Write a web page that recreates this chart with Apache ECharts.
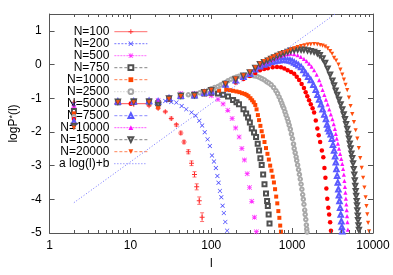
<!DOCTYPE html>
<html><head><meta charset="utf-8">
<script src="https://cdn.jsdelivr.net/npm/echarts@6/dist/echarts.min.js"></script>
<style>html,body{margin:0;padding:0;background:#fff}#c{width:393px;height:275px}</style>
</head><body><div id="c"></div>
<script>
// ---- axes ----
const xMin = 1, xMax = 10000;
const yMin = -5, yMax = 1.5, yInterval = 1;
const xMinorTicks = [2,3,4,5,6,7,8,9,20,30,40,50,60,70,80,90,200,300,400,500,600,700,800,900,2000,3000,4000,5000,6000,7000,8000,9000];
const seriesNames = ['N=100','N=200','N=500','N=750','N=1000','N=2500','N=5000','N=7500','N=10000','N=15000','N=20000','a log(l)+b'];

// ---- data: [l, logP*(l)] ----
const n100 = [[2,-1.12],[7,-1.12],[11,-1.18],[17,-1.22],[22,-1.3],[27,-1.4],[32,-1.6],[37,-1.79],[42,-2.03],[46,-2.3],[52,-2.59],[57,-2.93],[62,-3.26],[66,-3.63],[71,-4.04],[77,-4.53]];
const n100Err = [0,0,0,0.02,0.03,0.03,0.04,0.04,0.05,0.05,0.06,0.07,0.08,0.09,0.11,0.13];
const n200 = [[2,-1.18],[7,-1.14],[11,-1.1],[17,-1.08],[22,-1.08],[27,-1.08],[32,-1.11],[37,-1.13],[43,-1.23],[49,-1.33],[57,-1.42],[64,-1.52],[71,-1.67],[77,-1.81],[83,-2.01],[90,-2.22],[96,-2.42],[102,-2.7],[108,-2.88],[114,-3.07],[119,-3.31],[123,-3.51],[128,-3.75],[133,-3.94],[138,-4.19],[143,-4.41],[149,-4.67],[157,-4.93]];
const n500 = [[2,-1.28],[7,-1.12],[11,-1.1],[17,-1.08],[22,-1.07],[30,-0.98],[42,-0.86],[62,-0.86],[82,-0.88],[100,-0.93],[121,-1.04],[140,-1.17],[160,-1.36],[181,-1.6],[200,-1.88],[221,-2.15],[239,-2.49],[257,-2.83],[278,-3.24],[297,-3.65],[317,-4.06],[342,-4.53],[361,-4.96]];
const n750 = [[2,-1.38],[7,-1.12],[11,-1.1],[17,-1.1],[22,-1.15],[30,-1.02],[42,-0.94],[62,-0.92],[82,-0.86],[100,-0.84],[121,-0.86],[140,-0.9],[161,-0.95],[186,-1.05],[205,-1.12],[220,-1.18],[250,-1.33],[270,-1.45],[285,-1.57],[300,-1.72],[317,-1.9],[338,-2.02],[358,-2.15],[375,-2.35],[390,-2.55],[405,-2.78],[420,-2.98],[438,-3.26],[455,-3.55],[475,-3.83],[490,-4.05],[500,-4.2],[512,-4.45],[525,-4.72]];
const n1000 = [[2,-1.45],[7,-1.12],[11,-1.1],[17,-1.12],[22,-1.25],[30,-1.05],[42,-0.94],[62,-0.93],[82,-0.86],[100,-0.82],[125,-0.77],[153,-0.75],[170,-0.76],[186,-0.78],[205,-0.8],[223,-0.82],[240,-0.85],[258,-0.87],[273,-0.9],[288,-0.94],[305,-1.0],[320,-1.06],[335,-1.12],[350,-1.2],[363,-1.33],[377,-1.5],[390,-1.65],[405,-1.82],[420,-1.98],[435,-2.13],[455,-2.3],[475,-2.48],[495,-2.65],[515,-2.82],[535,-3.0],[555,-3.15],[575,-3.33],[595,-3.5],[615,-3.7],[635,-3.92],[655,-4.12],[675,-4.35],[695,-4.55],[712,-4.78],[727,-4.96]];
const n2500 = [[2,-1.55],[7,-1.1],[11,-1.1],[17,-1.1],[22,-1.12],[30,-1.0],[42,-0.92],[52,-0.9],[62,-0.88],[72,-0.84],[82,-0.8],[92,-0.76],[100,-0.72],[110,-0.68],[121,-0.65],[130,-0.61],[139,-0.58],[150,-0.53],[161,-0.48],[175,-0.44],[190,-0.4],[205,-0.37],[220,-0.35],[235,-0.34],[250,-0.33],[265,-0.32],[280,-0.32],[297,-0.32],[312,-0.32],[330,-0.33],[350,-0.34],[376,-0.36],[400,-0.39],[425,-0.42],[455,-0.46],[485,-0.51],[515,-0.55],[550,-0.6],[590,-0.68],[630,-0.78],[660,-0.86],[690,-0.96],[720,-1.06],[745,-1.15],[765,-1.23],[790,-1.3],[815,-1.4],[840,-1.5],[870,-1.6],[895,-1.7],[920,-1.8],[950,-1.92],[980,-2.06],[1010,-2.2],[1040,-2.36],[1060,-2.49],[1090,-2.62],[1120,-2.74],[1140,-2.85],[1170,-2.98],[1200,-3.12],[1230,-3.26],[1260,-3.4],[1290,-3.55],[1320,-3.7],[1350,-3.86],[1375,-4.0],[1400,-4.15],[1430,-4.32],[1450,-4.45],[1475,-4.6],[1500,-4.76],[1515,-4.88],[1530,-4.97]];
const n5000 = [[2,-1.62],[7,-1.1],[11,-1.1],[17,-1.1],[22,-1.1],[30,-1.0],[42,-0.94],[62,-0.92],[82,-0.84],[100,-0.82],[150,-0.63],[200,-0.53],[250,-0.43],[300,-0.34],[350,-0.25],[400,-0.17],[450,-0.13],[500,-0.11],[575,-0.08],[650,-0.07],[727,-0.08],[800,-0.12],[880,-0.17],[970,-0.22],[1060,-0.27],[1140,-0.36],[1220,-0.46],[1310,-0.58],[1400,-0.7],[1470,-0.82],[1540,-0.94],[1620,-1.06],[1700,-1.18],[1790,-1.3],[1870,-1.42],[1960,-1.66],[2050,-1.9],[2130,-2.1],[2220,-2.3],[2330,-2.55],[2430,-2.75],[2510,-3.07],[2580,-3.36],[2650,-3.68],[2720,-3.98],[2800,-4.25],[2870,-4.45],[2950,-4.68],[3020,-4.93]];
const n7500 = [[2,-1.7],[7,-1.1],[11,-1.1],[17,-1.08],[22,-1.1],[30,-1.0],[42,-0.93],[62,-0.91],[82,-0.84],[100,-0.79],[150,-0.59],[200,-0.47],[250,-0.36],[300,-0.27],[350,-0.14],[400,-0.05],[450,0.0],[500,0.04],[550,0.08],[600,0.1],[650,0.12],[700,0.13],[760,0.14],[820,0.14],[880,0.13],[940,0.12],[1000,0.1],[1060,0.06],[1130,0.02],[1200,-0.02],[1290,-0.07],[1380,-0.16],[1470,-0.26],[1580,-0.36],[1700,-0.46],[1830,-0.6],[1960,-0.75],[2060,-0.9],[2160,-1.04],[2270,-1.18],[2380,-1.33],[2500,-1.48],[2620,-1.62],[2700,-1.78],[2780,-1.9],[2880,-1.98],[3000,-2.07],[3100,-2.2],[3200,-2.38],[3300,-2.55],[3400,-2.72],[3470,-2.9],[3530,-3.1],[3600,-3.3],[3670,-3.5],[3730,-3.7],[3790,-3.88],[3850,-4.05],[3920,-4.25],[3990,-4.45],[4060,-4.65],[4120,-4.82],[4170,-4.95]];
const n10000 = [[2,-1.76],[7,-1.1],[11,-1.1],[17,-1.07],[22,-1.1],[30,-0.98],[42,-0.92],[62,-0.9],[82,-0.82],[100,-0.76],[150,-0.57],[200,-0.45],[250,-0.34],[300,-0.25],[350,-0.12],[400,-0.02],[450,0.04],[500,0.08],[550,0.14],[600,0.18],[660,0.22],[727,0.26],[800,0.29],[880,0.31],[960,0.32],[1060,0.31],[1170,0.28],[1280,0.23],[1400,0.17],[1510,0.1],[1620,0.03],[1740,-0.06],[1870,-0.17],[2010,-0.3],[2160,-0.46],[2270,-0.6],[2380,-0.75],[2500,-0.9],[2620,-1.04],[2750,-1.18],[2880,-1.33],[3010,-1.48],[3150,-1.62],[3270,-1.77],[3380,-1.91],[3470,-2.06],[3560,-2.2],[3680,-2.35],[3800,-2.5],[3920,-2.65],[4050,-2.8],[4170,-2.95],[4270,-3.1],[4360,-3.27],[4430,-3.45],[4500,-3.63],[4560,-3.8],[4620,-3.98],[4680,-4.15],[4730,-4.32],[4780,-4.5],[4830,-4.68],[4890,-4.9]];
const n15000 = [[2,-1.82],[7,-1.1],[11,-1.1],[17,-1.1],[22,-1.2],[30,-1.0],[42,-0.92],[62,-0.9],[82,-0.82],[100,-0.76],[150,-0.57],[200,-0.44],[250,-0.33],[300,-0.23],[350,-0.1],[400,0.01],[450,0.07],[500,0.12],[550,0.17],[600,0.21],[660,0.26],[727,0.3],[800,0.34],[880,0.38],[960,0.41],[1060,0.43],[1170,0.44],[1290,0.44],[1400,0.44],[1550,0.42],[1700,0.4],[1870,0.38],[2050,0.34],[2200,0.28],[2380,0.18],[2560,0.05],[2750,-0.12],[2950,-0.3],[3150,-0.48],[3300,-0.62],[3450,-0.77],[3620,-0.9],[3800,-1.04],[3980,-1.18],[4170,-1.33],[4340,-1.48],[4500,-1.62],[4650,-1.77],[4800,-1.91],[4920,-2.06],[5040,-2.2],[5160,-2.35],[5280,-2.49],[5410,-2.64],[5540,-2.78],[5670,-2.93],[5780,-3.1],[5870,-3.27],[5950,-3.44],[6030,-3.6],[6110,-3.76],[6190,-3.9],[6280,-4.05],[6340,-4.18],[6400,-4.33],[6470,-4.48],[6530,-4.62],[6610,-4.77],[6700,-4.91]];
const n20000 = [[2,-1.88],[7,-1.12],[11,-1.12],[17,-1.12],[22,-1.3],[30,-1.02],[42,-0.94],[62,-0.92],[82,-0.8],[100,-0.75],[150,-0.56],[200,-0.42],[250,-0.32],[300,-0.21],[350,-0.08],[400,0.03],[450,0.1],[500,0.15],[550,0.2],[600,0.24],[660,0.29],[727,0.33],[800,0.37],[880,0.4],[960,0.44],[1060,0.48],[1170,0.52],[1290,0.55],[1420,0.57],[1560,0.59],[1700,0.6],[1870,0.61],[2050,0.6],[2220,0.58],[2380,0.56],[2560,0.53],[2750,0.48],[2950,0.4],[3120,0.32],[3300,0.2],[3500,0.12],[3740,0.0],[3950,-0.15],[4170,-0.3],[4370,-0.45],[4580,-0.6],[4800,-0.76],[5040,-0.98],[5280,-1.23],[5540,-1.47],[5810,-1.71],[6100,-1.95],[6400,-2.2],[6680,-2.48],[6950,-2.78],[7250,-3.07],[7550,-3.36],[7830,-3.65],[8100,-3.94],[8300,-4.2],[8500,-4.45],[8700,-4.7],[8950,-4.95]];
const fitLine = [[2,-4.1],[3400,1.5]];

// ---- styling ----
const FONT = 'Liberation Sans, Arial, Helvetica, sans-serif';
const AXC = '#555';
const PLUS = 'path://M4,0L6,0L6,4L10,4L10,6L6,6L6,10L4,10L4,6L0,6L0,4L4,4Z';
const CROSS = 'path://M0,1L1,0L5,4L9,0L10,1L6,5L10,9L9,10L5,6L1,10L0,9L4,5Z';
const STAR = 'path://M4.3,0L5.7,0L5.7,4.3L10,4.3L10,5.7L5.7,5.7L5.7,10L4.3,10L4.3,5.7L0,5.7L0,4.3L4.3,4.3Z M1,0L5,4L9,0L10,1L6,5L10,9L9,10L5,6L1,10L0,9L4,5L0,1Z';

const specs = [
  {d:n100,  sym:PLUS, c:'#ff3030', s:5, dash:'solid'},
  {d:n200,  sym:CROSS, c:'#3a3aff', s:4.5, dash:[2,1.5]},
  {d:n500,  sym:STAR, c:'#ff30ff', s:5, dash:[2,1]},
  {d:n750,  sym:'emptyRect', c:'#505050', s:4, dash:[3,2]},
  {d:n1000, sym:'rect', c:'#ff4500', s:4, dash:[3,2]},
  {d:n2500, sym:'emptyCircle', c:'#a8a8a8', s:3.5, dash:[1,2]},
  {d:n5000, sym:'circle', c:'#ff0000', s:4.5, dash:'solid'},
  {d:n7500, sym:'emptyTriangle', c:'#5a5aff', s:4.5, dash:[3,2]},
  {d:n10000,sym:'triangle', c:'#ff10ff', s:4.2, dash:[2,1]},
  {d:n15000,sym:'emptyTriangle', c:'#505050', s:4.2, dash:[3,2], rot:180},
  {d:n20000,sym:'triangle', c:'#ff5010', s:4.2, dash:[3,2], rot:180}
];

const series = [];
// error bars for N=100
series.push({
  type:'custom', silent:true, clip:true, z:1,
  data: n100.map((p,i) => [p[0], p[1], n100Err[i]]),
  renderItem: (params, api) => {
    const l = api.value(0), y = api.value(1), e = api.value(2);
    if (!e) return null;
    const a = api.coord([l, y - e]), b = api.coord([l, y + e]);
    const st = {stroke:'#ff7070', lineWidth:1};
    return {type:'group', children:[
      {type:'line', shape:{x1:a[0],y1:a[1],x2:b[0],y2:b[1]}, style:st},
      {type:'line', shape:{x1:a[0]-2,y1:a[1],x2:a[0]+2,y2:a[1]}, style:st},
      {type:'line', shape:{x1:b[0]-2,y1:b[1],x2:b[0]+2,y2:b[1]}, style:st}
    ]};
  }
});
specs.forEach((sp, i) => {
  const empty = typeof sp.sym === 'string' && sp.sym.indexOf('empty') === 0;
  series.push({
    name: seriesNames[i], type:'line', data: sp.d,
    symbol: sp.sym, symbolSize: sp.s, symbolRotate: sp.rot || 0, showSymbol:true,
    lineStyle:{opacity:0, width:1, color:sp.c},
    itemStyle: empty ? {color:sp.c, borderColor:sp.c, borderWidth:1} : {color:sp.c, borderWidth:0},
    emphasis:{disabled:true}, silent:true, z:2 + i
  });
});
series.push({
  name: seriesNames[11], type:'line', data: fitLine, symbol:'none',
  lineStyle:{color:'#7070ff', width:1, type:[1,2]}, emphasis:{disabled:true}, silent:true, z:20
});
// minor ticks of the log axis (bottom and top)
series.push({
  type:'custom', silent:true, clip:false, z:30,
  data: xMinorTicks.map(v => [v, yMin]),
  renderItem: (params, api) => {
    const l = api.value(0);
    const b = api.coord([l, yMin]), t = api.coord([l, yMax]);
    const x = Math.round(b[0]) + 0.5;
    const st = {stroke:AXC, lineWidth:1};
    return {type:'group', children:[
      {type:'line', shape:{x1:x,y1:b[1],x2:x,y2:b[1]-3}, style:st},
      {type:'line', shape:{x1:x,y1:t[1],x2:x,y2:t[1]+3}, style:st}
    ]};
  }
});

const legendData = specs.map((sp, i) => ({
  name: seriesNames[i],
  lineStyle:{color:sp.c, width:1, opacity:0.7, type:sp.dash}
}));
legendData.push({name: seriesNames[11], lineStyle:{color:'#7070ff', width:1, opacity:1, type:[1,2]}, itemStyle:{opacity:0}});

const axisCommon = {
  axisLine:{show:true, onZero:false, lineStyle:{color:AXC, width:1}},
  splitLine:{show:false}
};

const option = {
  animation:false,
  backgroundColor:'#fff',
  grid:{left:47, right:20, top:14, bottom:37, containLabel:false},
  legend:{
    orient:'vertical', left:59, top:25.7, align:'right', padding:0,
    itemWidth:33, itemHeight:6, itemGap:0, selectedMode:false,
    textStyle:{fontSize:12, color:'#000', fontFamily:FONT, lineHeight:12},
    data: legendData
  },
  xAxis:[
    Object.assign({type:'log', logBase:10, min:xMin, max:xMax, position:'bottom',
      axisTick:{show:true, inside:true, length:5, lineStyle:{color:AXC}},
      axisLabel:{show:true, margin:7, fontSize:12, color:'#000', fontFamily:FONT,
        formatter: v => String(Math.round(v))},
      name:'l', nameLocation:'middle', nameGap:25,
      nameTextStyle:{fontSize:12, color:'#000', fontFamily:FONT}}, axisCommon),
    Object.assign({type:'log', logBase:10, min:xMin, max:xMax, position:'top',
      axisTick:{show:true, inside:true, length:5, lineStyle:{color:AXC}},
      axisLabel:{show:false}}, axisCommon)
  ],
  yAxis:[
    Object.assign({type:'value', min:yMin, max:yMax, interval:yInterval, position:'left',
      axisTick:{show:true, inside:true, length:5, lineStyle:{color:AXC}},
      axisLabel:{show:true, margin:8, fontSize:12, color:'#000', fontFamily:FONT,
        formatter: v => (Math.abs(v - Math.round(v)) < 1e-9 ? String(Math.round(v)) : '')},
      name:'logP{s|*}(l)', nameLocation:'middle', nameGap:28, nameRotate:90,
      nameTextStyle:{fontSize:12, color:'#000', fontFamily:FONT,
        rich:{s:{fontSize:9, verticalAlign:'top', lineHeight:10, color:'#000', fontFamily:FONT}}}}, axisCommon),
    Object.assign({type:'value', min:yMin, max:yMax, interval:yInterval, position:'right',
      axisTick:{show:true, inside:true, length:5, lineStyle:{color:AXC}},
      axisLabel:{show:false}}, axisCommon)
  ],
  series: series
};

const chart = echarts.init(document.getElementById('c'), null, {renderer:'canvas'});
chart.setOption(option);
</script>
</body></html>
